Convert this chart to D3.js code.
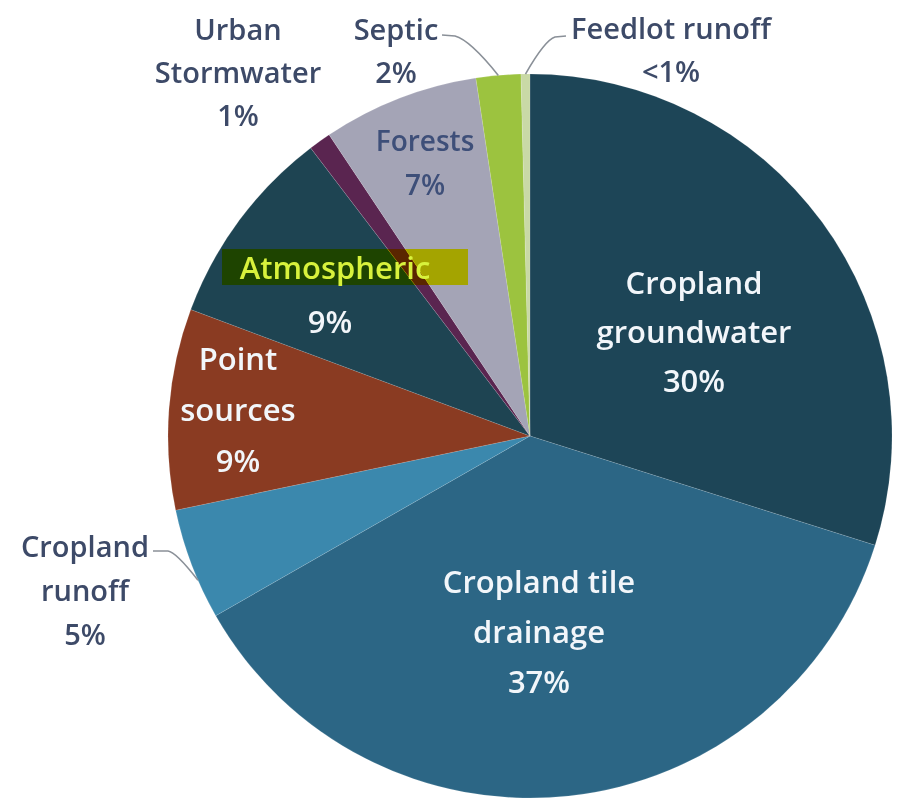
<!DOCTYPE html>
<html>
<head>
<meta charset="utf-8">
<script src="https://cdn.jsdelivr.net/npm/d3@7"></script>
<style>
  html, body { margin: 0; padding: 0; background: #fff; }
  svg { display: block; }
</style>
</head>
<body>
<svg id="chart" width="903" height="799"></svg>
<script>
// Nitrogen sources, share of total load (%)
const sources = ["Cropland groundwater", "Cropland tile drainage", "Cropland runoff", "Point sources",
                 "Atmospheric", "Urban Stormwater", "Forests", "Septic", "Feedlot runoff"];
const shares = [30, 37, 5, 9, 9, 1, 7, 2, 0.4];
const shareLabels = ["30%", "37%", "5%", "9%", "9%", "1%", "7%", "2%", "<1%"];
const sliceColors = ["#1d4557", "#2c6685", "#3b88ad", "#8a3b22", "#1e4452",
                     "#5a2550", "#a4a4b6", "#9cc33f", "#c9d9a6"];

const svg = d3.select("#chart");
const cx = 530, cy = 436, r = 362;
const g = svg.append("g").attr("transform", `translate(${cx},${cy})`);

const pie = d3.pie().sort(null).value(d => d.v).startAngle(0).endAngle(2 * Math.PI);
const arc = d3.arc().innerRadius(0).outerRadius(r);
const data = sources.map((s, i) => ({ name: s, v: shares[i], label: shareLabels[i], color: sliceColors[i] }));
const arcs = pie(data);

g.selectAll("path.slice").data(arcs).enter().append("path")
  .attr("class", "slice")
  .attr("d", arc)
  .attr("fill", d => d.data.color)
  .attr("stroke", "rgba(255,255,255,0.15)")
  .attr("stroke-width", 0.8);

const font = "'Open Sans', Lato, sans-serif";

function multiLine(sel, x, y, lines, gap, color, size) {
  const t = sel.append("text")
    .attr("x", x).attr("y", y)
    .attr("text-anchor", "middle")
    .attr("fill", color)
    .attr("font-family", font)
    .attr("font-weight", 600)
    .attr("font-size", size);
  lines.forEach((ln, i) => {
    t.append("tspan").attr("x", x).attr("dy", i === 0 ? 0 : gap).text(ln);
  });
  return t;
}

const labels = svg.append("g");

// Labels inside the larger slices
multiLine(labels, 694, 294, ["Cropland", "groundwater", arcs[0].data.label], 49, "#f2f6fa", 31);
multiLine(labels, 539, 593, ["Cropland tile", "drainage", arcs[1].data.label], 50, "#f2f6fa", 31);
multiLine(labels, 238, 370, ["Point", "sources", arcs[3].data.label], 51, "#f2f6fa", 31);

// Atmospheric, marked with a highlighter stroke
labels.append("rect")
  .attr("x", 222).attr("y", 249).attr("width", 246).attr("height", 36)
  .attr("fill", "#ffff00")
  .style("mix-blend-mode", "multiply");
labels.append("text")
  .attr("x", 335).attr("y", 279).attr("text-anchor", "middle")
  .attr("fill", "#d8f23c").attr("font-family", font).attr("font-weight", 600).attr("font-size", 31)
  .text("Atmospheric");
multiLine(labels, 330, 333, [arcs[4].data.label], 0, "#f2f6fa", 31);

// Forests
multiLine(labels, 425, 151, ["Forests", arcs[6].data.label], 44, "#3e4f79", 28);

// Labels outside the pie
const outColor = "#3d4a68";
multiLine(labels, 238, 40, ["Urban", "Stormwater", arcs[5].data.label], 43, outColor, 29);
multiLine(labels, 396, 40, ["Septic", arcs[7].data.label], 43, outColor, 29);
multiLine(labels, 671, 39, ["Feedlot runoff", arcs[8].data.label], 43, outColor, 29);
multiLine(labels, 85, 557, ["Cropland", "runoff", arcs[2].data.label], 44, outColor, 29);

// Leader lines
const leader = svg.append("g").attr("fill", "none").attr("stroke", "#8a9098").attr("stroke-width", 1.6);
function edgePoint(i, t) {
  const a = arcs[i].startAngle + (arcs[i].endAngle - arcs[i].startAngle) * t;
  return [cx + Math.sin(a) * r, cy - Math.cos(a) * r];
}
const sp = edgePoint(7, 0.5);
leader.append("path").attr("d", `M442,35 L455,36 Q470,40 ${sp[0]},${sp[1]}`);
const fp = edgePoint(8, 0.5);
leader.append("path").attr("d", `M566,36 L555,37 Q545,40 ${fp[0]},${fp[1]}`);
const rp = edgePoint(2, 0.35);
leader.append("path").attr("d", `M153,551 L168,551 Q176,552 ${rp[0]},${rp[1]}`);
</script>
</body>
</html>
